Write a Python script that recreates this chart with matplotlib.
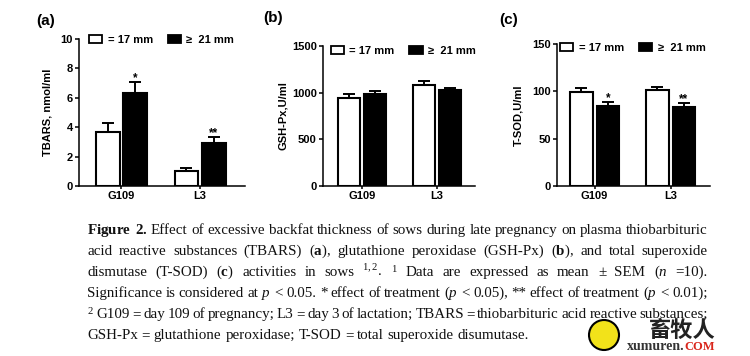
import matplotlib
matplotlib.use("Agg")
import matplotlib.pyplot as plt
from matplotlib.patches import Patch, Ellipse

plt.rcParams["font.family"] = "Liberation Sans"
plt.rcParams["mathtext.fontset"] = "custom"
plt.rcParams["mathtext.rm"] = "Liberation Serif"
plt.rcParams["mathtext.it"] = "Liberation Serif:italic"
plt.rcParams["mathtext.bf"] = "Liberation Serif:bold"

groups = ["G109", "L3"]
series_names = ["= 17 mm", "\u2265  21 mm"]

tbars_17 = [3.7, 1.05]
tbars_17_sem = [0.6, 0.2]
tbars_21 = [6.3, 2.95]
tbars_21_sem = [0.8, 0.35]
tbars_stars = ["*", "**"]

gshpx_17 = [940, 1085]
gshpx_17_sem = [42, 35]
gshpx_21 = [990, 1032]
gshpx_21_sem = [32, 20]
gshpx_stars = ["", ""]

tsod_17 = [99.5, 101]
tsod_17_sem = [4.2, 4.0]
tsod_21 = [84.7, 83.6]
tsod_21_sem = [3.9, 3.6]
tsod_stars = ["*", "**"]

W, H = 750, 356
fig = plt.figure(figsize=(7.5, 3.56), dpi=100)


def px_axes(left, right, top, bottom):
    return fig.add_axes([left / W, 1 - bottom / H, (right - left) / W, (bottom - top) / H])


def draw_panel(ax, v17, e17, v21, e21, stars, yticks, ylabel, xlim, label_x, leg_x, leg_y):
    bw = 0.30
    off = 0.175
    x = range(len(groups))
    x17 = [i - off for i in x]
    x21 = [i + off for i in x]
    ax.bar(x17, v17, width=bw, color="white", edgecolor="black", linewidth=1.5, zorder=2)
    ax.bar(x21, v21, width=bw, color="black", edgecolor="black", linewidth=1.5, zorder=2)
    ax.errorbar(x17, v17, yerr=[[0] * len(v17), e17], fmt="none", ecolor="black",
                elinewidth=1.4, capsize=4.5, capthick=1.4, zorder=1)
    ax.errorbar(x21, v21, yerr=[[0] * len(v21), e21], fmt="none", ecolor="black",
                elinewidth=1.4, capsize=4.5, capthick=1.4, zorder=1)
    for xi, v, e, s in zip(x21, v21, e21, stars):
        if s:
            ax.annotate(s, (xi, v + e), xytext=(0, -1.5), textcoords="offset points",
                        ha="center", va="bottom", fontsize=8.5, fontweight="bold")
    ax.set_xlim(*xlim)
    ax.set_ylim(yticks[0], yticks[-1])
    ax.set_yticks(yticks)
    ax.set_xticks(list(x))
    ax.set_xticklabels(groups)
    for side in ["top", "right"]:
        ax.spines[side].set_visible(False)
    for side in ["left", "bottom"]:
        ax.spines[side].set_linewidth(1.1)
    ax.tick_params(axis="y", length=3, width=1.1, pad=1.5, labelsize=8)
    ax.tick_params(axis="x", length=2.5, width=1.1, pad=1, labelsize=8)
    for t in ax.get_xticklabels() + ax.get_yticklabels():
        t.set_fontweight("bold")
    ax.set_ylabel(ylabel, fontsize=8, fontweight="bold")
    ax.yaxis.set_label_coords(label_x, 0.5)
    handles = [Patch(facecolor="white", edgecolor="black", linewidth=1.3),
               Patch(facecolor="black", edgecolor="black", linewidth=1.3)]
    ax.legend(handles, series_names, ncol=2, frameon=False, loc="upper left",
              bbox_to_anchor=(leg_x, leg_y), borderaxespad=0, borderpad=0,
              handlelength=1.2, handleheight=0.75, handletextpad=0.5,
              columnspacing=1.3, prop={"weight": "bold", "size": 8})


ax_a = px_axes(79, 245, 39, 186)
draw_panel(ax_a, tbars_17, tbars_17_sem, tbars_21, tbars_21_sem, tbars_stars,
           [0, 2, 4, 6, 8, 10], "TBARS, nmol/ml", (-0.54, 1.57), -0.16, 0.06, 1.03)
ax_b = px_axes(323, 475, 46, 186)
draw_panel(ax_b, gshpx_17, gshpx_17_sem, gshpx_21, gshpx_21_sem, gshpx_stars,
           [0, 500, 1000, 1500], "GSH-Px,U/ml", (-0.526, 1.513), -0.23, 0.05, 1.0)
ax_c = px_axes(557, 710, 44, 186)
draw_panel(ax_c, tsod_17, tsod_17_sem, tsod_21, tsod_21_sem, tsod_stars,
           [0, 50, 100, 150], "T-SOD,U/ml", (-0.494, 1.516), -0.22, 0.02, 1.01)

for lab, px, py in [("(a)", 36, 21), ("(b)", 263, 18), ("(c)", 499, 20)]:
    fig.text(px / W, 1 - py / H, lab, fontsize=11, fontweight="bold", va="center", ha="left")

# caption, justified word by word
caption_lines = [
    r"$\mathbf{Figure}$ $\mathbf{2.}$ Effect of excessive backfat thickness of sows during late pregnancy on plasma thiobarbituric",
    r"acid reactive substances (TBARS) ($\mathbf{a}$), glutathione peroxidase (GSH-Px) ($\mathbf{b}$), and total superoxide",
    r"dismutase (T-SOD) ($\mathbf{c}$) activities in sows $^{1,2}$. $^{1}$ Data are expressed as mean ± SEM ($n$ =10).",
    r"Significance is considered at $p$ < 0.05. * effect of treatment ($p$ < 0.05), ** effect of treatment ($p$ < 0.01);",
    r"$^{2}$ G109 = day 109 of pregnancy; L3 = day 3 of lactation; TBARS = thiobarbituric acid reactive substances;",
    r"GSH-Px = glutathione peroxidase; T-SOD = total superoxide disumutase.",
]
caption_baselines = [234, 255, 276, 297, 318, 339]
cap_left, cap_right = 87, 708
cap_size = 10.8

fig.canvas.draw()
renderer = fig.canvas.get_renderer()
space = cap_size * 100 / 72 * 0.25
for i, line in enumerate(caption_lines):
    words = line.split(" ")
    y = 1 - caption_baselines[i] / H
    texts = [fig.text(0, y, w, fontsize=cap_size, family="Liberation Serif",
                      va="baseline", ha="left", color="#111111") for w in words]
    widths = [t.get_window_extent(renderer).width for t in texts]
    if i < len(caption_lines) - 1:
        gap = (cap_right - cap_left - sum(widths)) / (len(words) - 1)
    else:
        gap = space
    xpos = cap_left
    for t, w in zip(texts, widths):
        t.set_x(xpos / W)
        xpos += w + gap

# watermark
fig.patches.append(Ellipse((604 / W, 1 - 335 / H), 30 / W, 30 / H, transform=fig.transFigure,
                           facecolor="#f2e21a", edgecolor="black", linewidth=1.5, zorder=5))
fig.text(682 / W, 1 - 330 / H, "畜牧人", fontsize=16, fontweight="bold",
         family=["Noto Sans CJK SC", "DejaVu Sans"], ha="center", va="center", color="#222222", zorder=6)
wm = fig.text(627 / W, 1 - 347 / H, "xumuren.", fontsize=10, fontweight="bold",
              family="Liberation Serif", ha="left", va="center", color="#333333", zorder=6)
fig.canvas.draw()
wm_w = wm.get_window_extent(renderer).width
fig.text((627 + wm_w) / W, 1 - 347 / H, "COM", fontsize=9, fontweight="bold",
         family="Liberation Serif", ha="left", va="center", color="#d9261c", zorder=6)

fig.savefig("out.png", dpi=100)
